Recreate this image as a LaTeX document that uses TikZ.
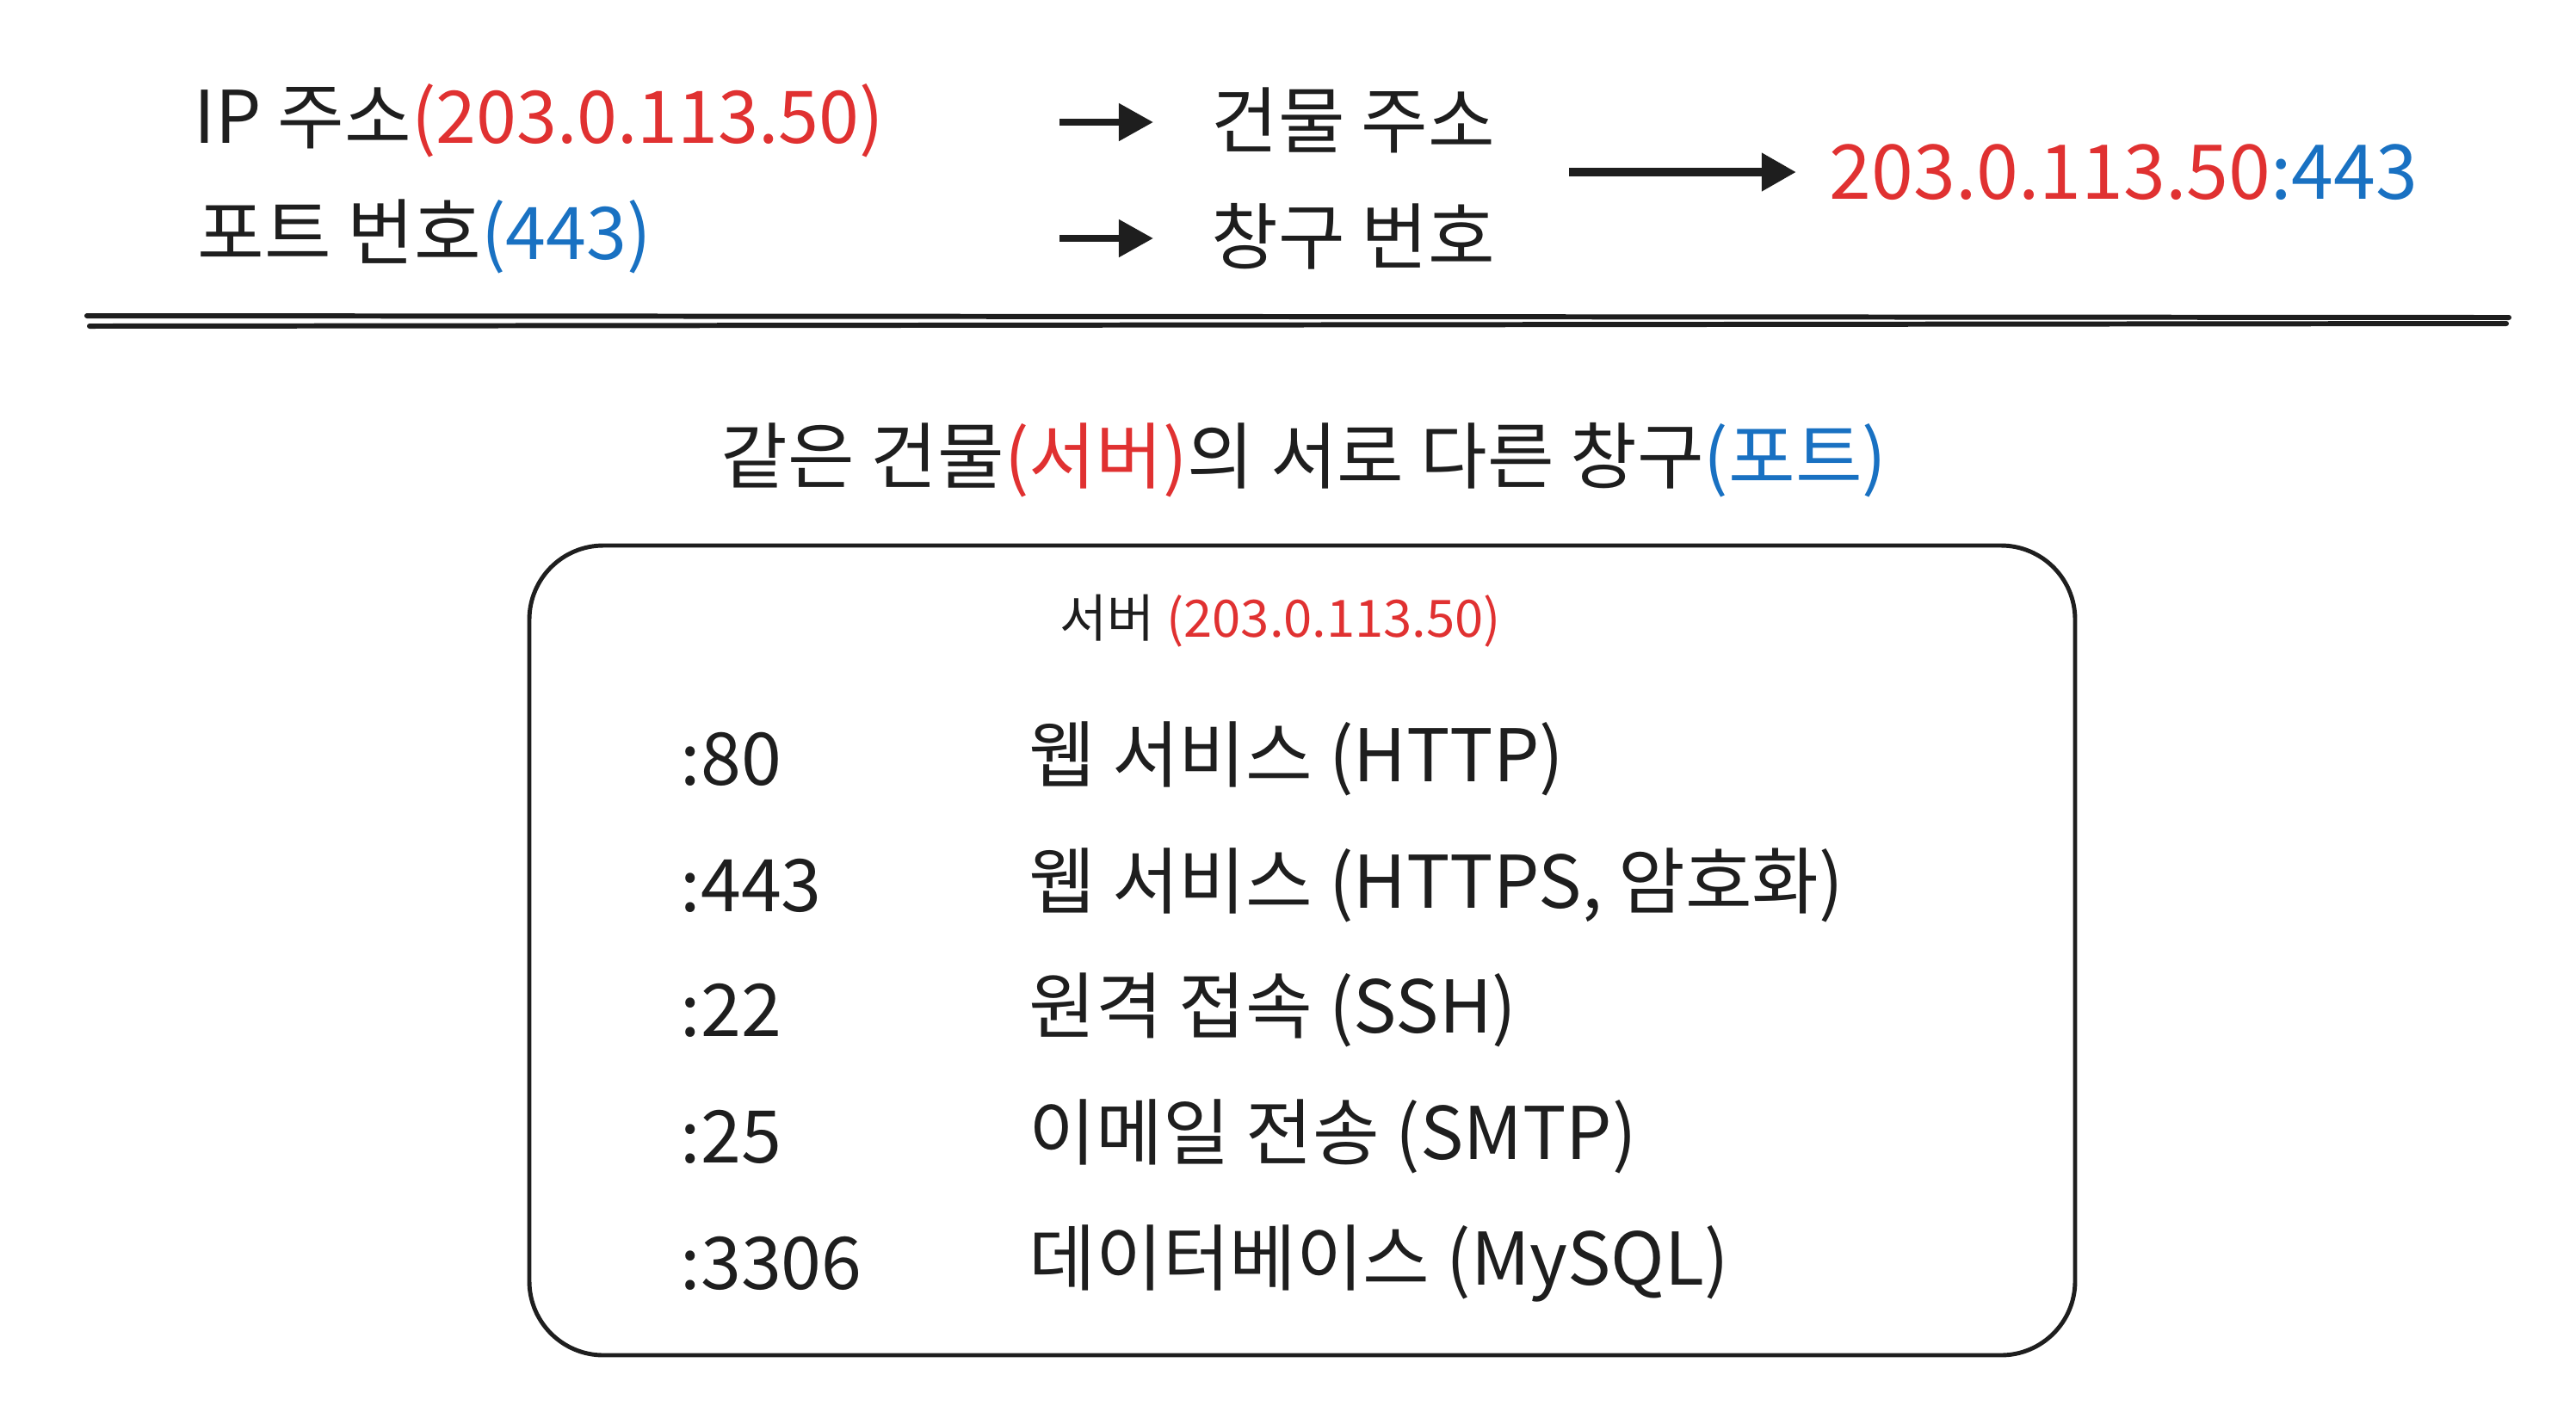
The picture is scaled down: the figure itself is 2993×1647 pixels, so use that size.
\documentclass[tikz,border=0pt]{standalone}
\usepackage{fontspec}
\setmainfont{Noto Sans CJK KR}
\usetikzlibrary{arrows.meta}
\definecolor{ink}{HTML}{1E1E1E}
\definecolor{ipred}{HTML}{E03131}
\definecolor{portblue}{HTML}{1971C2}
\newcommand{\ipc}[1]{\textcolor{ipred}{#1}}
\newcommand{\portc}[1]{\textcolor{portblue}{#1}}

\begin{document}
\begin{tikzpicture}[
		x=0.01cm, y=-0.01cm,
		txt/.style={anchor=west, inner sep=0pt, text=ink, font=\fontsize{24}{28}\selectfont},
		small/.style={txt, anchor=center, font=\fontsize{17}{20}\selectfont},
		link/.style={>={Triangle[length=0.4cm,width=0.42cm]}, draw=ink, fill=ink, line width=2.3pt, ->},
		box/.style={draw=ink, line width=1.4pt, rounded corners=0.86cm},
	]
		\useasboundingbox (0,0) rectangle (2993,1647);
		% top: address and port
		\node[txt] (ip) at (225,140) {IP 주소\ipc{(203.0.113.50)}};
		\node[txt] (port) at (229,275) {포트 번호\portc{(443)}};
		\node[txt] (bldg) at (1407,140) {건물 주소};
		\node[txt] (win) at (1407,275) {창구 번호};
		\node[txt, font=\fontsize{25}{30}\selectfont] (sum) at (2125,200) {\ipc{203.0.113.50}\portc{:443}};
		\coordinate (ipto) at (1231,142);
		\coordinate (portto) at (1231,277);
		\coordinate (sumfrom) at (1823,200);
		\draw[link, shorten >=0.67cm] (ipto) -- (bldg.west |- ipto);
		\draw[link, shorten >=0.67cm] (portto) -- (win.west |- portto);
		\draw[link, line width=2.8pt, shorten >=0.38cm] (sumfrom) -- (sum);
		% double rule
		\draw[ink, line width=1.7pt, line cap=round] (101,367) -- (2915,369);
		\draw[ink, line width=1.7pt, line cap=round] (104,379) -- (2912,376);
		% server with its ports
		\node[txt, anchor=center] (title) at (1515,535) {같은 건물\ipc{(서버)}의 서로 다른 창구\portc{(포트)}};
		\draw[box] (615,634) rectangle (2411,1575);
		\node[small] (srv) at (1488,722) {서버 \ipc{(203.0.113.50)}};
		\node[txt] (p80) at (790,882) {:80};
		\node[txt] (s80) at (1195,882) {웹 서비스 (HTTP)};
		\node[txt] (p443) at (790,1029) {:443};
		\node[txt] (s443) at (1195,1029) {웹 서비스 (HTTPS, 암호화)};
		\node[txt] (p22) at (790,1174) {:22};
		\node[txt] (s22) at (1195,1174) {원격 접속 (SSH)};
		\node[txt] (p25) at (790,1321) {:25};
		\node[txt] (s25) at (1195,1321) {이메일 전송 (SMTP)};
		\node[txt] (p3306) at (790,1468) {:3306};
		\node[txt] (s3306) at (1195,1468) {데이터베이스 (MySQL)};
	\end{tikzpicture}
\end{document}
